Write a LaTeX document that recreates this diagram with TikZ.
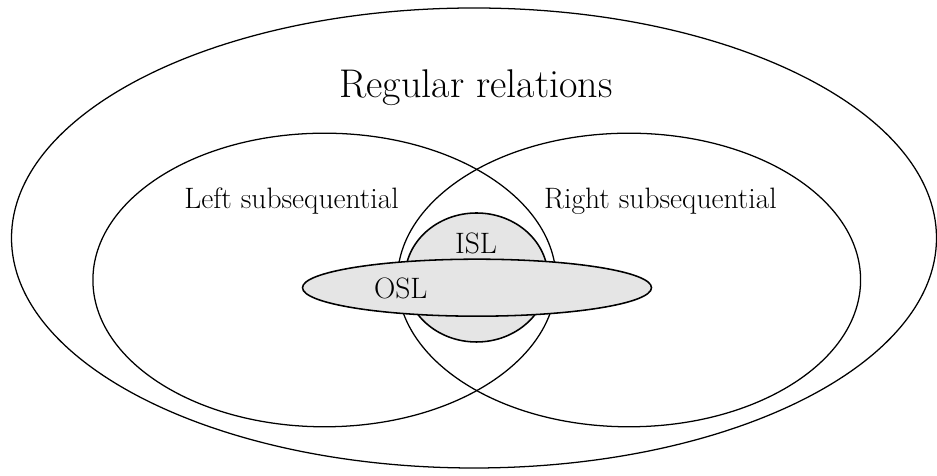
\documentclass[tikz,border=0pt]{standalone}
\begin{document}
\begin{tikzpicture}[
  set/.style={black,line width=0.9pt},
  core/.style={draw=black,fill=black!10,line width=1.1pt},
  lbl/.style={anchor=base,font=\fontsize{21}{24}\selectfont,inner sep=0pt}]
\useasboundingbox (0,0) rectangle (23.425,11.9);
\draw[set] (11.85,5.95) ellipse (11.5625 and 5.75);
\draw[set] (8.1125,4.9) ellipse (5.79 and 3.67);
\draw[set] (15.725,4.9) ellipse (5.79 and 3.67);
\filldraw[core] (11.9125,4.9625) ellipse (1.7875 and 1.6125);
\filldraw[core] (11.925,4.7075) ellipse (4.3625 and 0.7125);
\node[anchor=base,font=\fontsize{28.5}{32}\selectfont,inner sep=0pt] (reg) at (11.9,9.4575) {Regular relations};
\node[lbl] (left) at (7.2875,6.675) {Left subsequential};
\node[lbl] (right) at (16.51,6.675) {Right subsequential};
\node[lbl] (isl) at (11.9,5.5675) {ISL};
\node[lbl] (osl) at (10.02,4.4425) {OSL};
\end{tikzpicture}
\end{document}
